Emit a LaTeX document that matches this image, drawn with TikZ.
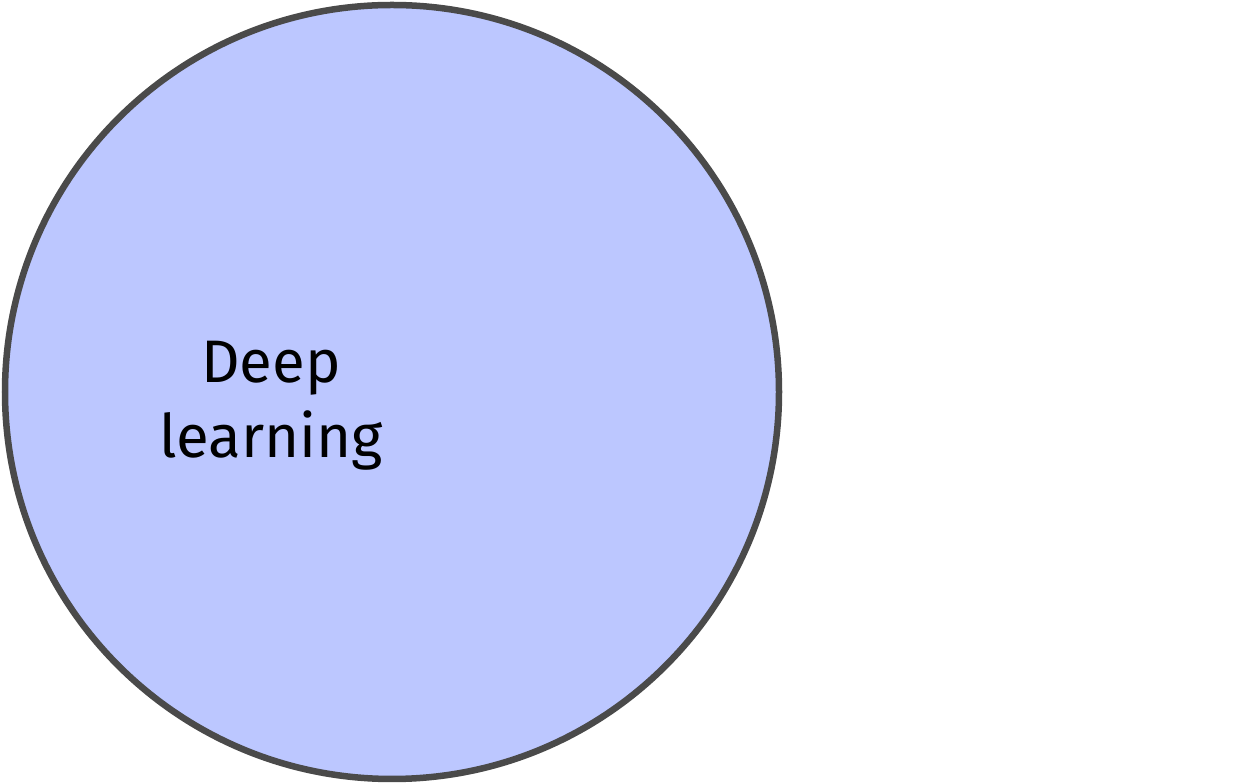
\documentclass[tikz,border=0pt]{standalone}
\usepackage{fontspec}
\setmainfont{Fira Sans}
\definecolor{dlfill}{HTML}{BCC7FF}
\definecolor{dlline}{HTML}{4A4A4A}
\begin{document}
\begin{tikzpicture}[x=1pt,y=1pt,
  setcircle/.style={draw=dlline,fill=dlfill,line width=6.5pt,circle,minimum size=774pt,inner sep=0pt},
  setlabel/.style={align=center,font=\fontsize{60}{75}\selectfont,text=black}]
\useasboundingbox (0,0) rectangle (1259,784);
\node[setcircle] (dl) at (392,392) {};
\node[setlabel] (dltext) at (271,378) {Deep\\learning};
\end{tikzpicture}
\end{document}
